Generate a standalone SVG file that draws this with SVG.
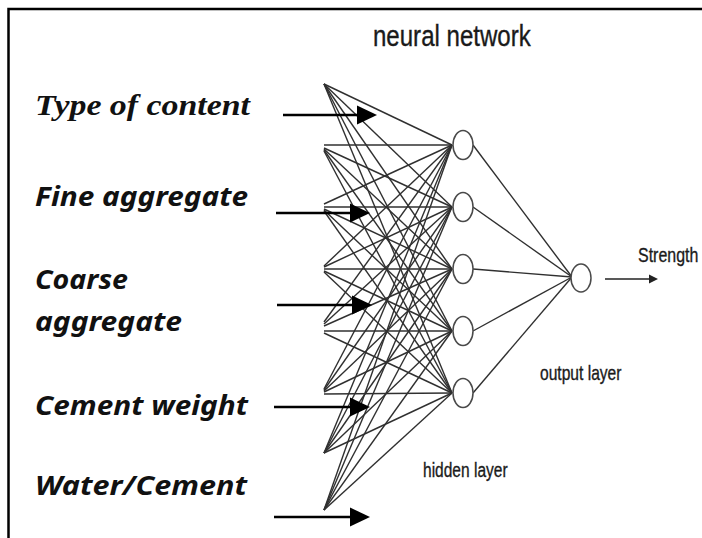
<svg xmlns="http://www.w3.org/2000/svg" width="702" height="538" viewBox="0 0 702 538">
  <defs>
    <style>
      .frame { stroke: #000; stroke-width: 2.5; fill: none; }
      .w { stroke: #303030; stroke-width: 1.4; fill: none; }
      .neuron { fill: #fff; stroke: #4a4a4a; stroke-width: 1.5; }
      .in-arrow { stroke: #000; stroke-width: 2.6; fill: none; marker-end: url(#headBig); }
      .out-arrow { stroke: #222; stroke-width: 1.4; fill: none; marker-end: url(#headSmall); }
      .nn { font-family: "Liberation Sans", Arial, sans-serif; fill: #1a1a1a; stroke: #1a1a1a; stroke-width: 0.35; }
      .lbl-serif { font-family: "Liberation Serif", "Times New Roman", serif; font-weight: bold; font-style: italic; fill: #111; }
      .lbl-sans { font-family: "Noto Sans", "Open Sans", "Liberation Sans", sans-serif; font-weight: bold; font-style: italic; fill: #111; }
    </style>
    <marker id="headBig" viewBox="0 -10 20 20" markerWidth="20" markerHeight="20" refX="1" refY="0" orient="auto" markerUnits="userSpaceOnUse">
      <path d="M0,-9.5 L20,0 L0,9.5 z" fill="#000"/>
    </marker>
    <marker id="headSmall" viewBox="0 -5 9 10" markerWidth="9" markerHeight="10" refX="1" refY="0" orient="auto" markerUnits="userSpaceOnUse">
      <path d="M0,-4.5 L9,0 L0,4.5 z" fill="#222"/>
    </marker>
  </defs>

  <rect width="702" height="538" fill="#fff"/>
  <!-- page frame: top and left edges only -->
  <path class="frame" d="M8.5,538 V9 H702"/>

  <!-- weights: input points to hidden layer, hidden layer to output -->
  <g id="connectors">
    <g id="in-1">
      <line class="w" x1="324" y1="84" x2="452" y2="145"/>
      <line class="w" x1="324" y1="84" x2="452" y2="207"/>
      <line class="w" x1="324" y1="84" x2="452" y2="269"/>
      <line class="w" x1="324" y1="84" x2="452" y2="331"/>
      <line class="w" x1="324" y1="84" x2="452" y2="393"/>
    </g>
    <g id="in-2">
      <line class="w" x1="324" y1="145" x2="452" y2="145"/>
      <line class="w" x1="324" y1="148" x2="452" y2="207"/>
      <line class="w" x1="324" y1="149" x2="452" y2="269"/>
      <line class="w" x1="324" y1="150" x2="452" y2="331"/>
      <line class="w" x1="324" y1="151" x2="452" y2="393"/>
    </g>
    <g id="in-3">
      <line class="w" x1="324" y1="204" x2="452" y2="145"/>
      <line class="w" x1="324" y1="207" x2="452" y2="207"/>
      <line class="w" x1="324" y1="209" x2="452" y2="269"/>
      <line class="w" x1="324" y1="210" x2="452" y2="331"/>
      <line class="w" x1="324" y1="211" x2="452" y2="393"/>
    </g>
    <g id="in-4">
      <line class="w" x1="324" y1="266" x2="452" y2="145"/>
      <line class="w" x1="324" y1="267" x2="452" y2="207"/>
      <line class="w" x1="324" y1="269" x2="452" y2="269"/>
      <line class="w" x1="324" y1="271" x2="452" y2="331"/>
      <line class="w" x1="324" y1="272" x2="452" y2="393"/>
    </g>
    <g id="in-5">
      <line class="w" x1="324" y1="322" x2="452" y2="145"/>
      <line class="w" x1="324" y1="324" x2="452" y2="207"/>
      <line class="w" x1="324" y1="326" x2="452" y2="269"/>
      <line class="w" x1="324" y1="331" x2="452" y2="331"/>
      <line class="w" x1="324" y1="333" x2="452" y2="393"/>
    </g>
    <g id="in-6">
      <line class="w" x1="324" y1="389" x2="452" y2="145"/>
      <line class="w" x1="324" y1="390" x2="452" y2="207"/>
      <line class="w" x1="324" y1="391" x2="452" y2="269"/>
      <line class="w" x1="324" y1="392" x2="452" y2="331"/>
      <line class="w" x1="324" y1="394" x2="452" y2="393"/>
    </g>
    <g id="in-7">
      <line class="w" x1="324" y1="453" x2="452" y2="145"/>
      <line class="w" x1="324" y1="453" x2="452" y2="207"/>
      <line class="w" x1="324" y1="453" x2="452" y2="269"/>
      <line class="w" x1="324" y1="453" x2="452" y2="331"/>
      <line class="w" x1="324" y1="453" x2="452" y2="393"/>
    </g>
    <g id="in-8">
      <line class="w" x1="324" y1="510" x2="452" y2="145"/>
      <line class="w" x1="324" y1="510" x2="452" y2="207"/>
      <line class="w" x1="324" y1="510" x2="452" y2="269"/>
      <line class="w" x1="324" y1="510" x2="452" y2="331"/>
      <line class="w" x1="324" y1="510" x2="452" y2="393"/>
    </g>
    <g id="hidden-to-output">
      <line class="w" x1="473" y1="145" x2="572" y2="277"/>
      <line class="w" x1="473" y1="207" x2="572" y2="277"/>
      <line class="w" x1="473" y1="269" x2="572" y2="277"/>
      <line class="w" x1="473" y1="331" x2="572" y2="277"/>
      <line class="w" x1="473" y1="393" x2="572" y2="277"/>
    </g>
    <line id="strength-arrow" class="out-arrow" x1="605" y1="279" x2="650" y2="279"/>
  </g>

  <!-- hidden layer -->
  <g id="hidden-1"><ellipse class="neuron" cx="463" cy="145" rx="10" ry="14.5"/></g>
  <g id="hidden-2"><ellipse class="neuron" cx="463" cy="207" rx="10" ry="14.5"/></g>
  <g id="hidden-3"><ellipse class="neuron" cx="463" cy="269" rx="10" ry="14.5"/></g>
  <g id="hidden-4"><ellipse class="neuron" cx="463" cy="331" rx="10" ry="14.5"/></g>
  <g id="hidden-5"><ellipse class="neuron" cx="463" cy="393" rx="10" ry="14.5"/></g>

  <!-- output layer -->
  <g id="output"><ellipse class="neuron" cx="581" cy="278" rx="10" ry="14"/></g>

  <!-- input arrows -->
  <g id="input-arrows">
    <line class="in-arrow" x1="283" y1="115" x2="358" y2="115"/>
    <line class="in-arrow" x1="276" y1="213" x2="351" y2="213"/>
    <line class="in-arrow" x1="277" y1="305" x2="353" y2="305"/>
    <line class="in-arrow" x1="274" y1="407" x2="351" y2="407"/>
    <line class="in-arrow" x1="274" y1="517" x2="351" y2="517"/>
  </g>

  <!-- captions, set in a narrowed face -->
  <g id="captions">
    <text class="nn" transform="translate(373,46) scale(0.83,1)" font-size="29">neural network</text>
    <text class="nn" transform="translate(423,477) scale(0.74,1)" font-size="21">hidden layer</text>
    <text class="nn" transform="translate(540,380) scale(0.78,1)" font-size="20">output layer</text>
    <text class="nn" transform="translate(638,262) scale(0.76,1)" font-size="21">Strength</text>
  </g>

  <!-- input labels -->
  <g id="label-type"><text class="lbl-serif" x="35" y="115" font-size="30" textLength="215" lengthAdjust="spacingAndGlyphs">Type of content</text></g>
  <g id="label-fine"><text class="lbl-sans" x="35" y="206" font-size="26" textLength="213" lengthAdjust="spacingAndGlyphs">Fine aggregate</text></g>
  <g id="label-coarse">
    <text class="lbl-sans" x="35" y="289" font-size="26" textLength="93" lengthAdjust="spacingAndGlyphs">Coarse</text>
    <text class="lbl-sans" x="35" y="331" font-size="26" textLength="147" lengthAdjust="spacingAndGlyphs">aggregate</text>
  </g>
  <g id="label-cement"><text class="lbl-sans" x="35" y="415" font-size="26" textLength="213" lengthAdjust="spacingAndGlyphs">Cement weight</text></g>
  <g id="label-water"><text class="lbl-sans" x="35" y="495" font-size="26" textLength="212" lengthAdjust="spacingAndGlyphs">Water/Cement</text></g>
</svg>
